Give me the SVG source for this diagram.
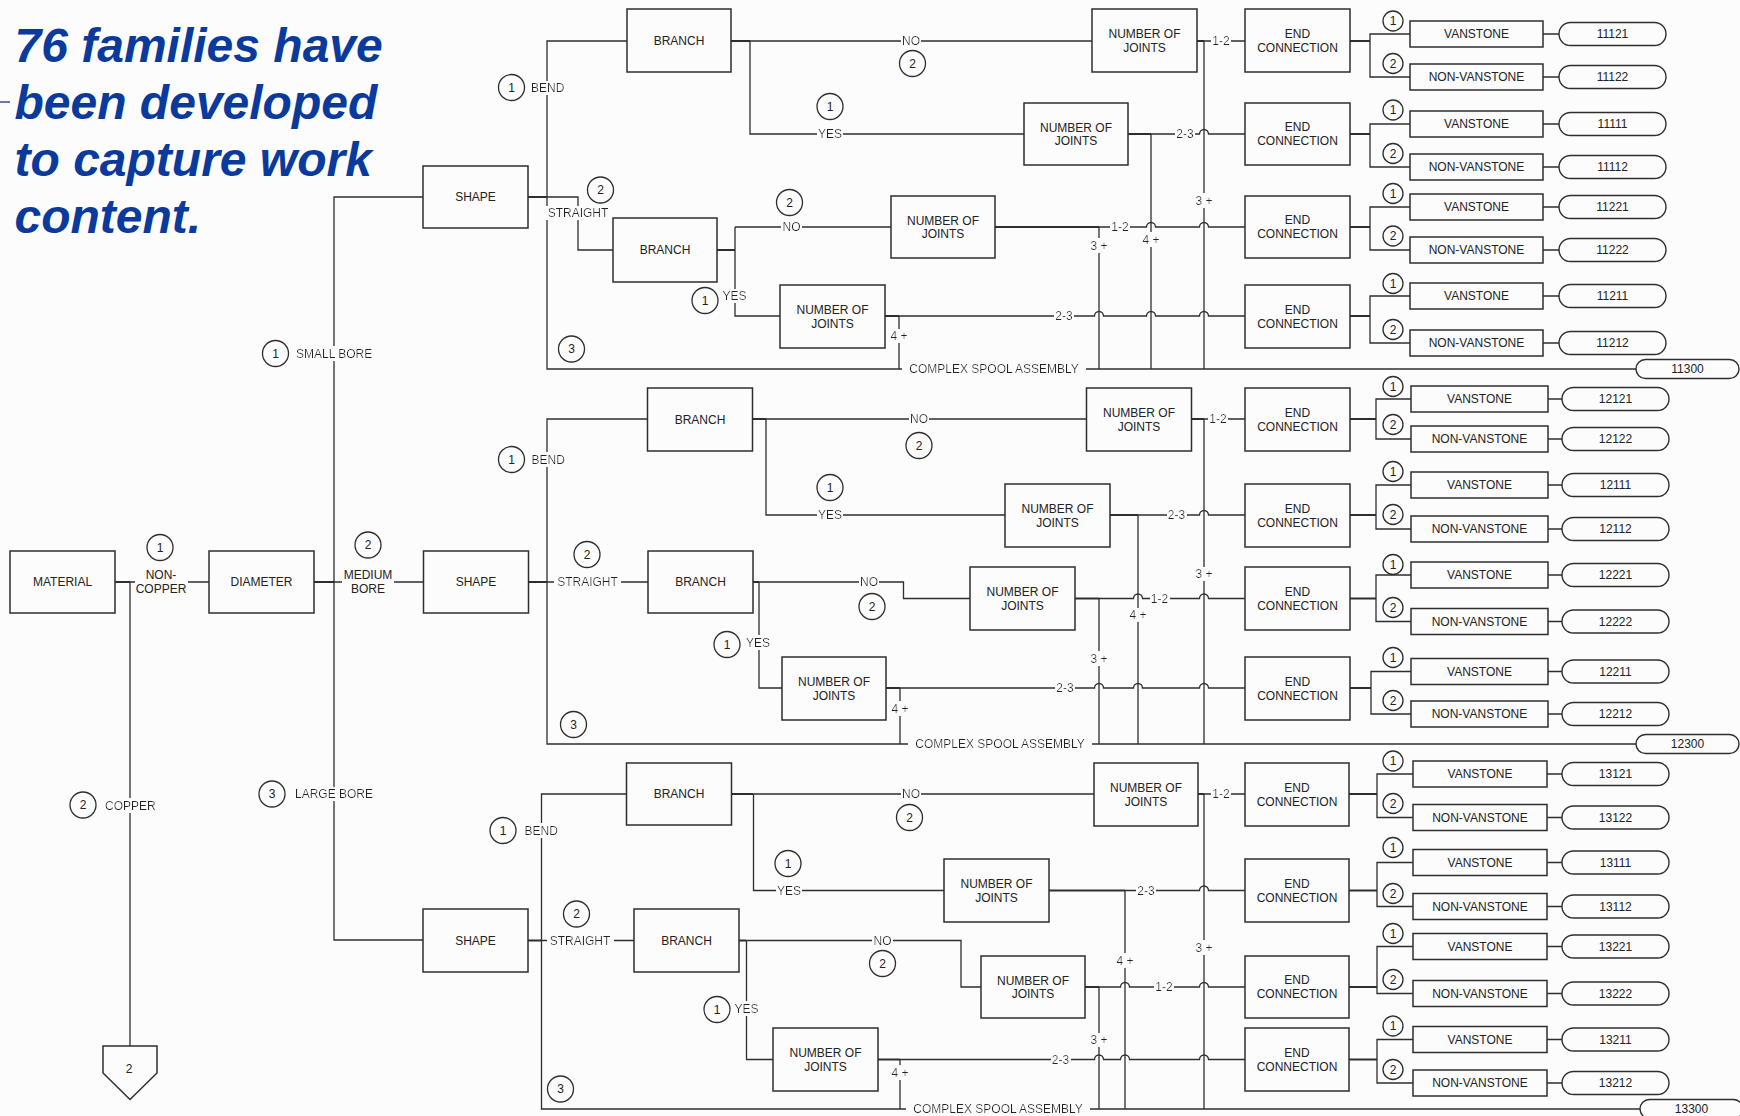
<svg xmlns="http://www.w3.org/2000/svg" width="1740" height="1116" viewBox="0 0 1740 1116">
<defs>
  <!-- paints the page colour behind a label so the line it sits on is interrupted -->
  <filter id="clear" x="-0.04" y="0" width="1.08" height="1">
    <feFlood flood-color="#fcfcfc"/>
    <feComposite in="SourceGraphic" operator="over"/>
  </filter>
</defs>
<style>
  .box{fill:#fcfcfc;stroke:#2e2e2e;stroke-width:1.5}
  .pill{fill:#fcfcfc;stroke:#2e2e2e;stroke-width:1.4}
  .ln{fill:none;stroke:#2e2e2e;stroke-width:1.3}
  .stub{fill:none;stroke:#2e2e2e;stroke-width:2}
  .c{fill:#fcfcfc;stroke:#2e2e2e;stroke-width:1.3}
  .t{font-family:"Liberation Sans",Arial,Helvetica,sans-serif;font-size:12px;fill:#222;text-anchor:middle;dominant-baseline:central}
  .s{text-anchor:start}
  .h{filter:url(#clear)}
  .title{font-family:"Liberation Sans",Arial,Helvetica,sans-serif;font-size:48px;font-weight:bold;font-style:italic;fill:#0a3a9c}
</style>
<rect width="1740" height="1116" fill="#fcfcfc"/>

<g id="title">
  <line x1="0" y1="102" x2="10" y2="102" stroke="#3b4c8f" stroke-width="1.5"/>
  <text class="title" x="14.5" y="62">76 families have</text>
  <text class="title" x="14.5" y="119">been developed</text>
  <text class="title" x="14.5" y="176">to capture work</text>
  <text class="title" x="14.5" y="233">content.</text>
</g>

<!-- connectors -->
<g id="connectors">
  <!-- material / diameter trunk -->
  <path class="stub" d="M115 582 H130"/>
  <path class="ln" d="M130 582 H135 M188 582 H209 M130 582 V1046"/>
  <path class="stub" d="M314 582 H334"/>
  <path class="ln" d="M334 582 H342 M394 582 H423.5 M423 197 H334 V940 H423"/>

  <!-- small bore -->
  <path class="stub" d="M528 197 H547 M731 41 H750 M717 250 H735 M1197 41 H1204 M1128 134 H1151 M995 227 H1099 M885 316 H899"/>
  <path class="ln" d="M627 41 H547 V369 H1636 M547 197 H578 V250 H613"/>
  <path class="ln" d="M750 41 H1092 M750 41 V134 H1024"/>
  <path class="ln" d="M735 227 V316 H780 M735 227 H891"/>
  <path class="ln" d="M1204 41 H1245 M1204 41 V369 M1151 134 V369 M1099 227 V369 M899 316 V369"/>
  <path class="ln" d="M1151 134 H1199.5 a4.5 4.5 0 0 1 9 0 H1245"/>
  <path class="ln" d="M1099 227 H1146.5 a4.5 4.5 0 0 1 9 0 H1199.5 a4.5 4.5 0 0 1 9 0 H1245"/>
  <path class="ln" d="M899 316 H1094.5 a4.5 4.5 0 0 1 9 0 H1146.5 a4.5 4.5 0 0 1 9 0 H1199.5 a4.5 4.5 0 0 1 9 0 H1245"/>
  <path class="stub" d="M1350 41 H1370 M1350 134 H1370 M1350 227 H1370 M1350 316 H1370"/>
  <path class="ln" d="M1410 34 H1370 V77 H1410 M1410 124 H1370 V167 H1410 M1410 207 H1370 V250 H1410 M1410 296 H1370 V343 H1410"/>
  <path class="ln" d="M1543 34 H1559 M1543 77 H1559 M1543 124 H1559 M1543 167 H1559 M1543 207 H1559 M1543 250 H1559 M1543 296 H1559 M1543 343 H1559"/>

  <!-- medium bore -->
  <path class="stub" d="M528.5 582 H547 M752.5 419 H766 M753 582 H759 M1191.5 419 H1204 M1110 515 H1138 M1075 598.5 H1099 M886 688 H900"/>
  <path class="ln" d="M647.5 419 H547 V744 H1636 M547 582 H648"/>
  <path class="ln" d="M766 419 H1086.5 M766 419 V515 H1005"/>
  <path class="ln" d="M759 582 H903.5 V598.5 H970 M759 582 V688 H782"/>
  <path class="ln" d="M1204 419 H1245 M1204 419 V744 M1138 515 V744 M1099 598.5 V744 M900 688 V744"/>
  <path class="ln" d="M1138 515 H1199.5 a4.5 4.5 0 0 1 9 0 H1245"/>
  <path class="ln" d="M1099 598.5 H1133.5 a4.5 4.5 0 0 1 9 0 H1199.5 a4.5 4.5 0 0 1 9 0 H1245"/>
  <path class="ln" d="M900 688 H1094.5 a4.5 4.5 0 0 1 9 0 H1133.5 a4.5 4.5 0 0 1 9 0 H1199.5 a4.5 4.5 0 0 1 9 0 H1245"/>
  <path class="stub" d="M1350 419 H1376 M1350 515 H1376 M1350 598.5 H1376 M1350 688 H1371"/>
  <path class="ln" d="M1411 399 H1376 V439 H1411 M1411 485 H1376 V529 H1411 M1411 575 H1376 V621.5 H1411 M1411 671.5 H1371 V714 H1411"/>
  <path class="ln" d="M1548 399 H1562 M1548 439 H1562 M1548 485 H1562 M1548 529 H1562 M1548 575 H1562 M1548 621.5 H1562 M1548 671.5 H1562 M1548 714 H1562"/>

  <!-- large bore -->
  <path class="stub" d="M528 940.5 H541.5 M731.5 794 H753.5 M739 940.5 H746.5 M1198 794 H1204 M1049 890.5 H1125 M1085 987 H1099 M878 1059.5 H900"/>
  <path class="ln" d="M626.5 794 H541.5 V1109 H1640 M541.5 940.5 H634"/>
  <path class="ln" d="M753.5 794 H1094 M753.5 794 V890.5 H944"/>
  <path class="ln" d="M746.5 940.5 H961 V987 H981 M746.5 940.5 V1059.5 H773"/>
  <path class="ln" d="M1204 794 H1245 M1204 794 V1109 M1125 890.5 V1109 M1099 987 V1109 M900 1059.5 V1109"/>
  <path class="ln" d="M1125 890.5 H1199.5 a4.5 4.5 0 0 1 9 0 H1245"/>
  <path class="ln" d="M1099 987 H1120.5 a4.5 4.5 0 0 1 9 0 H1199.5 a4.5 4.5 0 0 1 9 0 H1245"/>
  <path class="ln" d="M900 1059.5 H1094.5 a4.5 4.5 0 0 1 9 0 H1120.5 a4.5 4.5 0 0 1 9 0 H1199.5 a4.5 4.5 0 0 1 9 0 H1245"/>
  <path class="stub" d="M1349 794 H1377 M1349 890.5 H1377 M1349 987 H1377 M1349 1059.5 H1377"/>
  <path class="ln" d="M1413 774 H1377 V817.5 H1413 M1413 862.5 H1377 V906.5 H1413 M1413 946.5 H1377 V993.5 H1413 M1413 1039.5 H1377 V1083 H1413"/>
  <path class="ln" d="M1547 774 H1562 M1547 817.5 H1562 M1547 862.5 H1562 M1547 906.5 H1562 M1547 946.5 H1562 M1547 993.5 H1562 M1547 1039.5 H1562 M1547 1083 H1562"/>
</g>

<!-- branch labels and option numbers -->
<g id="labels" class="t">
  <text x="161" y="574.5">NON-</text><text x="161" y="589">COPPER</text>
  <text x="368" y="574.5">MEDIUM</text><text x="368" y="589">BORE</text>
  <text class="h s" x="296" y="353.5">SMALL BORE</text>
  <text class="h s" x="295" y="794">LARGE BORE</text>
  <text class="h s" x="105" y="805.5">COPPER</text>

  <text class="h s" x="531" y="88">BEND</text>
  <text class="h" x="578" y="213">STRAIGHT</text>
  <text class="h" x="911" y="41">NO</text>
  <text class="h" x="830" y="134">YES</text>
  <text class="h" x="791.5" y="227">NO</text>
  <text class="h" x="734.5" y="296">YES</text>
  <text class="h" x="1221" y="41">1-2</text>
  <text class="h" x="1185" y="134">2-3</text>
  <text class="h" x="1120" y="227">1-2</text>
  <text class="h" x="1064" y="316">2-3</text>
  <text class="h" x="1204" y="200.5">3 +</text>
  <text class="h" x="1151" y="239.5">4 +</text>
  <text class="h" x="1099" y="245.5">3 +</text>
  <text class="h" x="899" y="336">4 +</text>
  <text class="h" x="994" y="369">COMPLEX SPOOL ASSEMBLY</text>

  <text class="h s" x="531.5" y="459.5">BEND</text>
  <text class="h" x="587.5" y="582">STRAIGHT</text>
  <text class="h" x="919" y="419">NO</text>
  <text class="h" x="830" y="515">YES</text>
  <text class="h" x="869" y="582">NO</text>
  <text class="h" x="758" y="642.5">YES</text>
  <text class="h" x="1218" y="419">1-2</text>
  <text class="h" x="1176.5" y="515">2-3</text>
  <text class="h" x="1159.5" y="598.5">1-2</text>
  <text class="h" x="1065" y="688">2-3</text>
  <text class="h" x="1204" y="574">3 +</text>
  <text class="h" x="1138" y="615">4 +</text>
  <text class="h" x="1099" y="658.5">3 +</text>
  <text class="h" x="900" y="708.5">4 +</text>
  <text class="h" x="1000" y="744">COMPLEX SPOOL ASSEMBLY</text>

  <text class="h s" x="524.5" y="830.5">BEND</text>
  <text class="h" x="580" y="940.5">STRAIGHT</text>
  <text class="h" x="911" y="794">NO</text>
  <text class="h" x="789" y="890.5">YES</text>
  <text class="h" x="882.5" y="940.5">NO</text>
  <text class="h" x="746.5" y="1008.5">YES</text>
  <text class="h" x="1221" y="794">1-2</text>
  <text class="h" x="1146" y="890.5">2-3</text>
  <text class="h" x="1164" y="987">1-2</text>
  <text class="h" x="1060.5" y="1059.5">2-3</text>
  <text class="h" x="1204" y="947.5">3 +</text>
  <text class="h" x="1125" y="960.5">4 +</text>
  <text class="h" x="1099" y="1040">3 +</text>
  <text class="h" x="900" y="1072.5">4 +</text>
  <text class="h" x="998" y="1109">COMPLEX SPOOL ASSEMBLY</text>
</g>

<g id="option-numbers">
  <g><circle class="c" cx="160" cy="547.5" r="13"/><text class="t" x="160" y="547.5">1</text></g>
  <g><circle class="c" cx="83" cy="805" r="13"/><text class="t" x="83" y="805">2</text></g>
  <g><circle class="c" cx="275.5" cy="353.5" r="13"/><text class="t" x="275.5" y="353.5">1</text></g>
  <g><circle class="c" cx="368" cy="545" r="13"/><text class="t" x="368" y="545">2</text></g>
  <g><circle class="c" cx="272" cy="794" r="13"/><text class="t" x="272" y="794">3</text></g>

  <g><circle class="c" cx="511.5" cy="87.5" r="13"/><text class="t" x="511.5" y="87.5">1</text></g>
  <g><circle class="c" cx="600.5" cy="190" r="13"/><text class="t" x="600.5" y="190">2</text></g>
  <g><circle class="c" cx="571.5" cy="349" r="13"/><text class="t" x="571.5" y="349">3</text></g>
  <g><circle class="c" cx="912.5" cy="63.5" r="13"/><text class="t" x="912.5" y="63.5">2</text></g>
  <g><circle class="c" cx="830" cy="106.5" r="13"/><text class="t" x="830" y="106.5">1</text></g>
  <g><circle class="c" cx="789.5" cy="202.5" r="13"/><text class="t" x="789.5" y="202.5">2</text></g>
  <g><circle class="c" cx="705" cy="300.5" r="13"/><text class="t" x="705" y="300.5">1</text></g>

  <g><circle class="c" cx="511.5" cy="459.5" r="13"/><text class="t" x="511.5" y="459.5">1</text></g>
  <g><circle class="c" cx="587" cy="554.5" r="13"/><text class="t" x="587" y="554.5">2</text></g>
  <g><circle class="c" cx="573.5" cy="724.5" r="13"/><text class="t" x="573.5" y="724.5">3</text></g>
  <g><circle class="c" cx="919" cy="445.5" r="13"/><text class="t" x="919" y="445.5">2</text></g>
  <g><circle class="c" cx="830" cy="487.5" r="13"/><text class="t" x="830" y="487.5">1</text></g>
  <g><circle class="c" cx="872" cy="606.5" r="13"/><text class="t" x="872" y="606.5">2</text></g>
  <g><circle class="c" cx="727" cy="644.5" r="13"/><text class="t" x="727" y="644.5">1</text></g>

  <g><circle class="c" cx="503" cy="830.5" r="13"/><text class="t" x="503" y="830.5">1</text></g>
  <g><circle class="c" cx="576.5" cy="914" r="13"/><text class="t" x="576.5" y="914">2</text></g>
  <g><circle class="c" cx="560.5" cy="1089" r="13"/><text class="t" x="560.5" y="1089">3</text></g>
  <g><circle class="c" cx="909.5" cy="817.5" r="13"/><text class="t" x="909.5" y="817.5">2</text></g>
  <g><circle class="c" cx="788" cy="863.5" r="13"/><text class="t" x="788" y="863.5">1</text></g>
  <g><circle class="c" cx="882.5" cy="963.5" r="13"/><text class="t" x="882.5" y="963.5">2</text></g>
  <g><circle class="c" cx="717" cy="1009.5" r="13"/><text class="t" x="717" y="1009.5">1</text></g>

  <!-- end connection choices -->
  <g><circle class="c" cx="1393" cy="21" r="10"/><text class="t" x="1393" y="21">1</text></g>
  <g><circle class="c" cx="1393" cy="63.5" r="10"/><text class="t" x="1393" y="63.5">2</text></g>
  <g><circle class="c" cx="1393" cy="110" r="10"/><text class="t" x="1393" y="110">1</text></g>
  <g><circle class="c" cx="1393" cy="153.5" r="10"/><text class="t" x="1393" y="153.5">2</text></g>
  <g><circle class="c" cx="1393" cy="193.5" r="10"/><text class="t" x="1393" y="193.5">1</text></g>
  <g><circle class="c" cx="1393" cy="236" r="10"/><text class="t" x="1393" y="236">2</text></g>
  <g><circle class="c" cx="1393" cy="283.5" r="10"/><text class="t" x="1393" y="283.5">1</text></g>
  <g><circle class="c" cx="1393" cy="329.5" r="10"/><text class="t" x="1393" y="329.5">2</text></g>

  <g><circle class="c" cx="1393" cy="386.5" r="10"/><text class="t" x="1393" y="386.5">1</text></g>
  <g><circle class="c" cx="1393" cy="424.5" r="10"/><text class="t" x="1393" y="424.5">2</text></g>
  <g><circle class="c" cx="1393" cy="471.5" r="10"/><text class="t" x="1393" y="471.5">1</text></g>
  <g><circle class="c" cx="1393" cy="514.5" r="10"/><text class="t" x="1393" y="514.5">2</text></g>
  <g><circle class="c" cx="1393" cy="564.5" r="10"/><text class="t" x="1393" y="564.5">1</text></g>
  <g><circle class="c" cx="1393" cy="607.5" r="10"/><text class="t" x="1393" y="607.5">2</text></g>
  <g><circle class="c" cx="1393" cy="657.5" r="10"/><text class="t" x="1393" y="657.5">1</text></g>
  <g><circle class="c" cx="1393" cy="700.5" r="10"/><text class="t" x="1393" y="700.5">2</text></g>

  <g><circle class="c" cx="1393" cy="761" r="10"/><text class="t" x="1393" y="761">1</text></g>
  <g><circle class="c" cx="1393" cy="803.5" r="10"/><text class="t" x="1393" y="803.5">2</text></g>
  <g><circle class="c" cx="1393" cy="847.5" r="10"/><text class="t" x="1393" y="847.5">1</text></g>
  <g><circle class="c" cx="1393" cy="893.5" r="10"/><text class="t" x="1393" y="893.5">2</text></g>
  <g><circle class="c" cx="1393" cy="933.5" r="10"/><text class="t" x="1393" y="933.5">1</text></g>
  <g><circle class="c" cx="1393" cy="979.5" r="10"/><text class="t" x="1393" y="979.5">2</text></g>
  <g><circle class="c" cx="1393" cy="1026" r="10"/><text class="t" x="1393" y="1026">1</text></g>
  <g><circle class="c" cx="1393" cy="1069.5" r="10"/><text class="t" x="1393" y="1069.5">2</text></g>
</g>

<!-- decision nodes -->
<g id="material"><rect class="box" x="10" y="551" width="105" height="62"/><text class="t" x="62.5" y="582">MATERIAL</text></g>
<g id="diameter"><rect class="box" x="209" y="551" width="105" height="62"/><text class="t" x="261.5" y="582">DIAMETER</text></g>
<g id="copper-ref"><polygon class="box" points="103,1046 157,1046 157,1073 130,1099.5 103,1073"/><text class="t" x="129" y="1069">2</text></g>

<g id="shape-small"><rect class="box" x="423" y="166" width="105" height="62"/><text class="t" x="475.5" y="197">SHAPE</text></g>
<g id="shape-medium"><rect class="box" x="423.5" y="551" width="105" height="62"/><text class="t" x="476" y="582">SHAPE</text></g>
<g id="shape-large"><rect class="box" x="423" y="909" width="105" height="63"/><text class="t" x="475.5" y="940.5">SHAPE</text></g>

<!-- small bore -->
<g id="branch-11"><rect class="box" x="627" y="9" width="104" height="63"/><text class="t" x="679" y="40.5">BRANCH</text></g>
<g id="branch-12"><rect class="box" x="613" y="218" width="104" height="64"/><text class="t" x="665" y="250">BRANCH</text></g>
<g id="joints-11"><rect class="box" x="1092" y="9" width="105" height="63"/><text class="t" x="1144.5" y="34">NUMBER OF</text><text class="t" x="1144.5" y="47.5">JOINTS</text></g>
<g id="joints-12"><rect class="box" x="1024" y="103" width="104" height="62"/><text class="t" x="1076" y="127.5">NUMBER OF</text><text class="t" x="1076" y="141">JOINTS</text></g>
<g id="joints-13"><rect class="box" x="891" y="196" width="104" height="62"/><text class="t" x="943" y="220.5">NUMBER OF</text><text class="t" x="943" y="234">JOINTS</text></g>
<g id="joints-14"><rect class="box" x="780" y="285" width="105" height="63"/><text class="t" x="832.5" y="310">NUMBER OF</text><text class="t" x="832.5" y="323.5">JOINTS</text></g>
<g id="end-11"><rect class="box" x="1245" y="9" width="105" height="63"/><text class="t" x="1297.5" y="33.5">END</text><text class="t" x="1297.5" y="47.5">CONNECTION</text></g>
<g id="end-12"><rect class="box" x="1245" y="103" width="105" height="62"/><text class="t" x="1297.5" y="127">END</text><text class="t" x="1297.5" y="141">CONNECTION</text></g>
<g id="end-13"><rect class="box" x="1245" y="196" width="105" height="62"/><text class="t" x="1297.5" y="220">END</text><text class="t" x="1297.5" y="234">CONNECTION</text></g>
<g id="end-14"><rect class="box" x="1245" y="285" width="105" height="63"/><text class="t" x="1297.5" y="309.5">END</text><text class="t" x="1297.5" y="323.5">CONNECTION</text></g>

<g id="v-11121"><rect class="box" x="1410" y="21" width="133" height="26"/><text class="t" x="1476.5" y="34">VANSTONE</text></g>
<g id="nv-11122"><rect class="box" x="1410" y="64" width="133" height="26"/><text class="t" x="1476.5" y="77">NON-VANSTONE</text></g>
<g id="v-11111"><rect class="box" x="1410" y="111" width="133" height="26"/><text class="t" x="1476.5" y="124">VANSTONE</text></g>
<g id="nv-11112"><rect class="box" x="1410" y="154" width="133" height="26"/><text class="t" x="1476.5" y="167">NON-VANSTONE</text></g>
<g id="v-11221"><rect class="box" x="1410" y="194" width="133" height="26"/><text class="t" x="1476.5" y="207">VANSTONE</text></g>
<g id="nv-11222"><rect class="box" x="1410" y="237" width="133" height="26"/><text class="t" x="1476.5" y="250">NON-VANSTONE</text></g>
<g id="v-11211"><rect class="box" x="1410" y="283" width="133" height="26"/><text class="t" x="1476.5" y="296">VANSTONE</text></g>
<g id="nv-11212"><rect class="box" x="1410" y="330" width="133" height="26"/><text class="t" x="1476.5" y="343">NON-VANSTONE</text></g>

<g id="f-11121"><rect class="pill" x="1559" y="22.5" width="107" height="23" rx="11.5"/><text class="t" x="1612.5" y="34">11121</text></g>
<g id="f-11122"><rect class="pill" x="1559" y="65.5" width="107" height="23" rx="11.5"/><text class="t" x="1612.5" y="77">11122</text></g>
<g id="f-11111"><rect class="pill" x="1559" y="112.5" width="107" height="23" rx="11.5"/><text class="t" x="1612.5" y="124">11111</text></g>
<g id="f-11112"><rect class="pill" x="1559" y="155.5" width="107" height="23" rx="11.5"/><text class="t" x="1612.5" y="167">11112</text></g>
<g id="f-11221"><rect class="pill" x="1559" y="195.5" width="107" height="23" rx="11.5"/><text class="t" x="1612.5" y="207">11221</text></g>
<g id="f-11222"><rect class="pill" x="1559" y="238.5" width="107" height="23" rx="11.5"/><text class="t" x="1612.5" y="250">11222</text></g>
<g id="f-11211"><rect class="pill" x="1559" y="284.5" width="107" height="23" rx="11.5"/><text class="t" x="1612.5" y="296">11211</text></g>
<g id="f-11212"><rect class="pill" x="1559" y="331.5" width="107" height="23" rx="11.5"/><text class="t" x="1612.5" y="343">11212</text></g>
<g id="f-11300"><rect class="pill" x="1636" y="359.5" width="103" height="19" rx="9.5"/><text class="t" x="1687.5" y="369">11300</text></g>

<!-- medium bore -->
<g id="branch-21"><rect class="box" x="647.5" y="388" width="105" height="63"/><text class="t" x="700" y="419.5">BRANCH</text></g>
<g id="branch-22"><rect class="box" x="648" y="551" width="105" height="62"/><text class="t" x="700.5" y="582">BRANCH</text></g>
<g id="joints-21"><rect class="box" x="1086.5" y="388" width="105" height="63"/><text class="t" x="1139" y="413">NUMBER OF</text><text class="t" x="1139" y="426.5">JOINTS</text></g>
<g id="joints-22"><rect class="box" x="1005" y="484" width="105" height="63"/><text class="t" x="1057.5" y="509">NUMBER OF</text><text class="t" x="1057.5" y="522.5">JOINTS</text></g>
<g id="joints-23"><rect class="box" x="970" y="567" width="105" height="63"/><text class="t" x="1022.5" y="592">NUMBER OF</text><text class="t" x="1022.5" y="605.5">JOINTS</text></g>
<g id="joints-24"><rect class="box" x="782" y="657" width="104" height="63"/><text class="t" x="834" y="682">NUMBER OF</text><text class="t" x="834" y="695.5">JOINTS</text></g>
<g id="end-21"><rect class="box" x="1245" y="388" width="105" height="63"/><text class="t" x="1297.5" y="412.5">END</text><text class="t" x="1297.5" y="426.5">CONNECTION</text></g>
<g id="end-22"><rect class="box" x="1245" y="484" width="105" height="63"/><text class="t" x="1297.5" y="508.5">END</text><text class="t" x="1297.5" y="522.5">CONNECTION</text></g>
<g id="end-23"><rect class="box" x="1245" y="567" width="105" height="63"/><text class="t" x="1297.5" y="591.5">END</text><text class="t" x="1297.5" y="605.5">CONNECTION</text></g>
<g id="end-24"><rect class="box" x="1245" y="657" width="105" height="63"/><text class="t" x="1297.5" y="681.5">END</text><text class="t" x="1297.5" y="695.5">CONNECTION</text></g>

<g id="v-12121"><rect class="box" x="1411" y="386" width="137" height="26"/><text class="t" x="1479.5" y="399">VANSTONE</text></g>
<g id="nv-12122"><rect class="box" x="1411" y="426" width="137" height="26"/><text class="t" x="1479.5" y="439">NON-VANSTONE</text></g>
<g id="v-12111"><rect class="box" x="1411" y="472" width="137" height="26"/><text class="t" x="1479.5" y="485">VANSTONE</text></g>
<g id="nv-12112"><rect class="box" x="1411" y="516" width="137" height="26"/><text class="t" x="1479.5" y="529">NON-VANSTONE</text></g>
<g id="v-12221"><rect class="box" x="1411" y="562" width="137" height="26"/><text class="t" x="1479.5" y="575">VANSTONE</text></g>
<g id="nv-12222"><rect class="box" x="1411" y="608.5" width="137" height="26"/><text class="t" x="1479.5" y="621.5">NON-VANSTONE</text></g>
<g id="v-12211"><rect class="box" x="1411" y="658.5" width="137" height="26"/><text class="t" x="1479.5" y="671.5">VANSTONE</text></g>
<g id="nv-12212"><rect class="box" x="1411" y="701" width="137" height="26"/><text class="t" x="1479.5" y="714">NON-VANSTONE</text></g>

<g id="f-12121"><rect class="pill" x="1562" y="387.5" width="107" height="23" rx="11.5"/><text class="t" x="1615.5" y="399">12121</text></g>
<g id="f-12122"><rect class="pill" x="1562" y="427.5" width="107" height="23" rx="11.5"/><text class="t" x="1615.5" y="439">12122</text></g>
<g id="f-12111"><rect class="pill" x="1562" y="473.5" width="107" height="23" rx="11.5"/><text class="t" x="1615.5" y="485">12111</text></g>
<g id="f-12112"><rect class="pill" x="1562" y="517.5" width="107" height="23" rx="11.5"/><text class="t" x="1615.5" y="529">12112</text></g>
<g id="f-12221"><rect class="pill" x="1562" y="563.5" width="107" height="23" rx="11.5"/><text class="t" x="1615.5" y="575">12221</text></g>
<g id="f-12222"><rect class="pill" x="1562" y="610" width="107" height="23" rx="11.5"/><text class="t" x="1615.5" y="621.5">12222</text></g>
<g id="f-12211"><rect class="pill" x="1562" y="660" width="107" height="23" rx="11.5"/><text class="t" x="1615.5" y="671.5">12211</text></g>
<g id="f-12212"><rect class="pill" x="1562" y="702.5" width="107" height="23" rx="11.5"/><text class="t" x="1615.5" y="714">12212</text></g>
<g id="f-12300"><rect class="pill" x="1636" y="734.5" width="103" height="19" rx="9.5"/><text class="t" x="1687.5" y="744">12300</text></g>

<!-- large bore -->
<g id="branch-31"><rect class="box" x="626.5" y="763" width="105" height="62"/><text class="t" x="679" y="794">BRANCH</text></g>
<g id="branch-32"><rect class="box" x="634" y="909" width="105" height="63"/><text class="t" x="686.5" y="940.5">BRANCH</text></g>
<g id="joints-31"><rect class="box" x="1094" y="763" width="104" height="63"/><text class="t" x="1146" y="788">NUMBER OF</text><text class="t" x="1146" y="801.5">JOINTS</text></g>
<g id="joints-32"><rect class="box" x="944" y="859" width="105" height="63"/><text class="t" x="996.5" y="884">NUMBER OF</text><text class="t" x="996.5" y="897.5">JOINTS</text></g>
<g id="joints-33"><rect class="box" x="981" y="956" width="104" height="62"/><text class="t" x="1033" y="980.5">NUMBER OF</text><text class="t" x="1033" y="994">JOINTS</text></g>
<g id="joints-34"><rect class="box" x="773" y="1028" width="105" height="63"/><text class="t" x="825.5" y="1053">NUMBER OF</text><text class="t" x="825.5" y="1066.5">JOINTS</text></g>
<g id="end-31"><rect class="box" x="1245" y="763" width="104" height="63"/><text class="t" x="1297" y="787.5">END</text><text class="t" x="1297" y="801.5">CONNECTION</text></g>
<g id="end-32"><rect class="box" x="1245" y="859" width="104" height="63"/><text class="t" x="1297" y="883.5">END</text><text class="t" x="1297" y="897.5">CONNECTION</text></g>
<g id="end-33"><rect class="box" x="1245" y="956" width="104" height="62"/><text class="t" x="1297" y="980">END</text><text class="t" x="1297" y="994">CONNECTION</text></g>
<g id="end-34"><rect class="box" x="1245" y="1028" width="104" height="63"/><text class="t" x="1297" y="1052.5">END</text><text class="t" x="1297" y="1066.5">CONNECTION</text></g>

<g id="v-13121"><rect class="box" x="1413" y="761" width="134" height="26"/><text class="t" x="1480" y="774">VANSTONE</text></g>
<g id="nv-13122"><rect class="box" x="1413" y="804.5" width="134" height="26"/><text class="t" x="1480" y="817.5">NON-VANSTONE</text></g>
<g id="v-13111"><rect class="box" x="1413" y="849.5" width="134" height="26"/><text class="t" x="1480" y="862.5">VANSTONE</text></g>
<g id="nv-13112"><rect class="box" x="1413" y="893.5" width="134" height="26"/><text class="t" x="1480" y="906.5">NON-VANSTONE</text></g>
<g id="v-13221"><rect class="box" x="1413" y="933.5" width="134" height="26"/><text class="t" x="1480" y="946.5">VANSTONE</text></g>
<g id="nv-13222"><rect class="box" x="1413" y="980.5" width="134" height="26"/><text class="t" x="1480" y="993.5">NON-VANSTONE</text></g>
<g id="v-13211"><rect class="box" x="1413" y="1026.5" width="134" height="26"/><text class="t" x="1480" y="1039.5">VANSTONE</text></g>
<g id="nv-13212"><rect class="box" x="1413" y="1070" width="134" height="26"/><text class="t" x="1480" y="1083">NON-VANSTONE</text></g>

<g id="f-13121"><rect class="pill" x="1562" y="762.5" width="107" height="23" rx="11.5"/><text class="t" x="1615.5" y="774">13121</text></g>
<g id="f-13122"><rect class="pill" x="1562" y="806" width="107" height="23" rx="11.5"/><text class="t" x="1615.5" y="817.5">13122</text></g>
<g id="f-13111"><rect class="pill" x="1562" y="851" width="107" height="23" rx="11.5"/><text class="t" x="1615.5" y="862.5">13111</text></g>
<g id="f-13112"><rect class="pill" x="1562" y="895" width="107" height="23" rx="11.5"/><text class="t" x="1615.5" y="906.5">13112</text></g>
<g id="f-13221"><rect class="pill" x="1562" y="935" width="107" height="23" rx="11.5"/><text class="t" x="1615.5" y="946.5">13221</text></g>
<g id="f-13222"><rect class="pill" x="1562" y="982" width="107" height="23" rx="11.5"/><text class="t" x="1615.5" y="993.5">13222</text></g>
<g id="f-13211"><rect class="pill" x="1562" y="1028" width="107" height="23" rx="11.5"/><text class="t" x="1615.5" y="1039.5">13211</text></g>
<g id="f-13212"><rect class="pill" x="1562" y="1071.5" width="107" height="23" rx="11.5"/><text class="t" x="1615.5" y="1083">13212</text></g>
<g id="f-13300"><rect class="pill" x="1640" y="1099.5" width="103" height="19" rx="9.5"/><text class="t" x="1691.5" y="1108.5">13300</text></g>
</svg>
